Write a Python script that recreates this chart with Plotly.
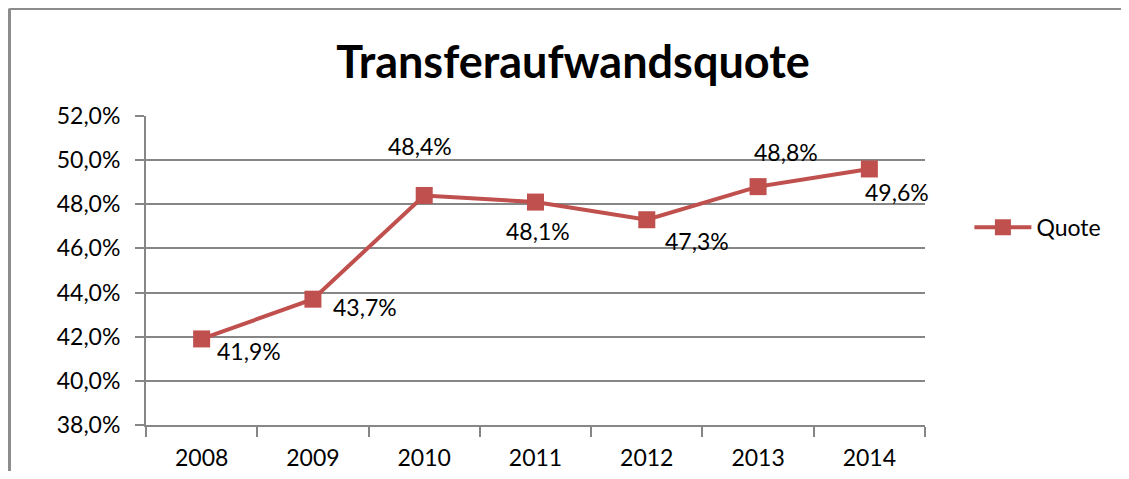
import plotly.graph_objects as go

years = ["2008", "2009", "2010", "2011", "2012", "2013", "2014"]
quote = [41.9, 43.7, 48.4, 48.1, 47.3, 48.8, 49.6]
labels = ["41,9%", "43,7%", "48,4%", "48,1%", "47,3%", "48,8%", "49,6%"]
y_ticks = [38, 40, 42, 44, 46, 48, 50, 52]
y_tick_labels = ["38,0%", "40,0%", "42,0%", "44,0%", "46,0%", "48,0%", "50,0%", "52,0%"]

# label offsets (px) relative to each marker, like Excel's manual placement
label_shift = [(47, -12), (52, -8), (-4, 49), (2, -29), (50, -21), (28, 35), (28, -23)]

red = "#C0504D"
grid = "#868686"
font = "Lato, 'Open Sans', sans-serif"

fig = go.Figure()
fig.add_trace(go.Scatter(
    x=years, y=quote, mode="lines+markers", name="Quote",
    line=dict(color=red, width=4),
    marker=dict(symbol="square", size=17, color=red),
))

# category index as x, so "2008" isn't read as position 2008
for i, (val, txt, (dx, dy)) in enumerate(zip(quote, labels, label_shift)):
    fig.add_annotation(x=i, y=val, xref="x", yref="y", text=txt, showarrow=False,
                       xshift=dx, yshift=dy,
                       font=dict(size=23, color="black", family=font))

# page body has an 8px margin, so the figure is drawn 8px in from the window edge
fig.update_layout(
    width=1113, height=463,
    margin=dict(l=138, r=196, t=108, b=46),
    paper_bgcolor="white", plot_bgcolor="white",
    font=dict(family=font, size=23, color="black"),
    title=dict(text="<b>Transferaufwandsquote</b>", x=565 / 1113, xanchor="center",
               y=1 - 54 / 463, yanchor="middle", yref="container",
               font=dict(size=45, family=font, color="black")),
    showlegend=True,
    legend=dict(x=1.057, y=0.64, xanchor="left", yanchor="middle",
                font=dict(size=23), itemwidth=57),
)

fig.update_xaxes(
    type="category", range=[-0.5, 6.5], showgrid=False, automargin=False,
    showline=True, linecolor=grid, linewidth=2,
    ticks="outside", tickson="boundaries", ticklen=10, tickcolor=grid, tickwidth=2,
    ticklabelstandoff=11,
)
fig.update_yaxes(
    range=[38, 52], tickvals=y_ticks, ticktext=y_tick_labels, automargin=False,
    showgrid=True, gridcolor=grid, gridwidth=2,
    showline=True, linecolor=grid, linewidth=2,
    ticks="outside", ticklen=9, tickcolor=grid, tickwidth=2,
    ticklabelstandoff=10, zeroline=False,
)

# chart frame (left and top edges visible in the crop)
fig.add_shape(type="line", xref="paper", yref="paper",
              x0=(1.5 - 138) / 779, x1=(1.5 - 138) / 779, y0=-0.3, y1=(417 - 0.5) / 309,
              line=dict(color="#8c8c8c", width=3))
fig.add_shape(type="line", xref="paper", yref="paper",
              x0=(1.5 - 138) / 779, x1=1.4, y0=(417 - 0.5) / 309, y1=(417 - 0.5) / 309,
              line=dict(color="#8c8c8c", width=3))

fig.write_html("out.html")
